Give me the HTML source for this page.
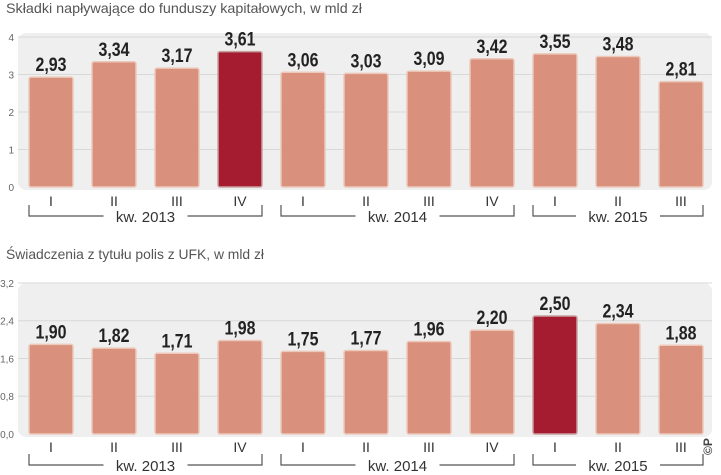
<!DOCTYPE html>
<html><head><meta charset="utf-8"><style>
body{margin:0;background:#fff;width:721px;height:475px;overflow:hidden;font-family:"Liberation Sans",sans-serif}
svg{display:block}
</style></head><body>
<svg id="c" width="721" height="475">
<text x="6" y="13" font-size="14" fill="#555" textLength="356" lengthAdjust="spacingAndGlyphs">Składki napływające do funduszy kapitałowych, w mld zł</text>
<text x="6" y="259" font-size="14" fill="#555" textLength="258" lengthAdjust="spacingAndGlyphs">Świadczenia z tytułu polis z UFK, w mld zł</text>
<text x="712" y="455" font-size="12" font-weight="bold" fill="#444" transform="rotate(-90 712 455)">©P</text>
</svg>
<script>
const categories=["I","II","III","IV","I","II","III","IV","I","II","III"];
const years=["kw. 2013","kw. 2014","kw. 2015"];
const yearSpans=[[0,3],[4,7],[8,10]];
const topValues=[2.93,3.34,3.17,3.61,3.06,3.03,3.09,3.42,3.55,3.48,2.81];
const topLabels=["2,93","3,34","3,17","3,61","3,06","3,03","3,09","3,42","3,55","3,48","2,81"];
const topTicks=[0,1,2,3,4];
const topTickLabels=["0","1","2","3","4"];
const topHighlight=3;
const botValues=[1.90,1.82,1.71,1.98,1.75,1.77,1.96,2.20,2.50,2.34,1.88];
const botLabels=["1,90","1,82","1,71","1,98","1,75","1,77","1,96","2,20","2,50","2,34","1,88"];
const botTicks=[0,0.8,1.6,2.4,3.2];
const botTickLabels=["0,0","0,8","1,6","2,4","3,2"];
const botHighlight=8;

const svg=document.getElementById('c');
const NS='http://www.w3.org/2000/svg';
function mk(t,a){const e=document.createElementNS(NS,t);for(const k in a)e.setAttribute(k,a[k]);svg.appendChild(e);return e;}
const xc=i=>51+i*63;
const BW=44;
function chart(p,vals,labels,ticks,tickLabels,hi,zeroY,pxPerUnit,bgTop,romanY,brY){
  const y=v=>zeroY-v*pxPerUnit;
  const bg=mk('rect',{x:18,y:bgTop,width:694,height:zeroY+3-bgTop,rx:8,fill:'#efefef'});
  
  
  ticks.forEach((t,i)=>{
    if(i>0){const g=mk('line',{x1:18,x2:712,y1:y(t),y2:y(t),stroke:'#d8d8d8','stroke-width':1});
    
    }
    const tl=mk('text',{x:14,y:y(t)+4,'font-size':10,fill:'#666','text-anchor':'end'});
    tl.textContent=tickLabels[i];
    
    
  });
  vals.forEach((v,i)=>{
    const r=mk('rect',{x:xc(i)-BW/2,y:y(v),width:BW,height:zeroY-y(v),rx:2,fill:i===hi?'#a51c30':'#d9907c',stroke:i===hi?'#c9a0a0':'#ecc9bb','stroke-width':1.5});
    
    
    const l=mk('text',{x:xc(i),y:y(v)-6,'font-size':19,'font-weight':'bold',fill:'#222','text-anchor':'middle',textLength:31,lengthAdjust:'spacingAndGlyphs'});
    l.textContent=labels[i];
    
    
    const c=mk('text',{x:xc(i),y:romanY,'font-size':14,fill:'#333','text-anchor':'middle'});
    c.textContent=categories[i];
    
    
  });
  yearSpans.forEach((s,k)=>{
    const x1=xc(s[0])-22,x2=xc(s[1])+22,m=(x1+x2)/2;
    const pth=mk('path',{d:`M${x1} ${brY-11}V${brY}H${m-42}M${m+42} ${brY}H${x2}V${brY-11}`,stroke:'#555',fill:'none','stroke-width':1.2});
    
    
    const t=mk('text',{x:m,y:brY+6,'font-size':15,fill:'#333','text-anchor':'middle'});
    t.textContent=years[k];
    
    
  });
}
chart('top',topValues,topLabels,topTicks,topTickLabels,topHighlight,187,37.5,33,206,216);
chart('bottom',botValues,botLabels,botTicks,botTickLabels,botHighlight,434,47.2,283,452,465);
</script>
</body></html>
